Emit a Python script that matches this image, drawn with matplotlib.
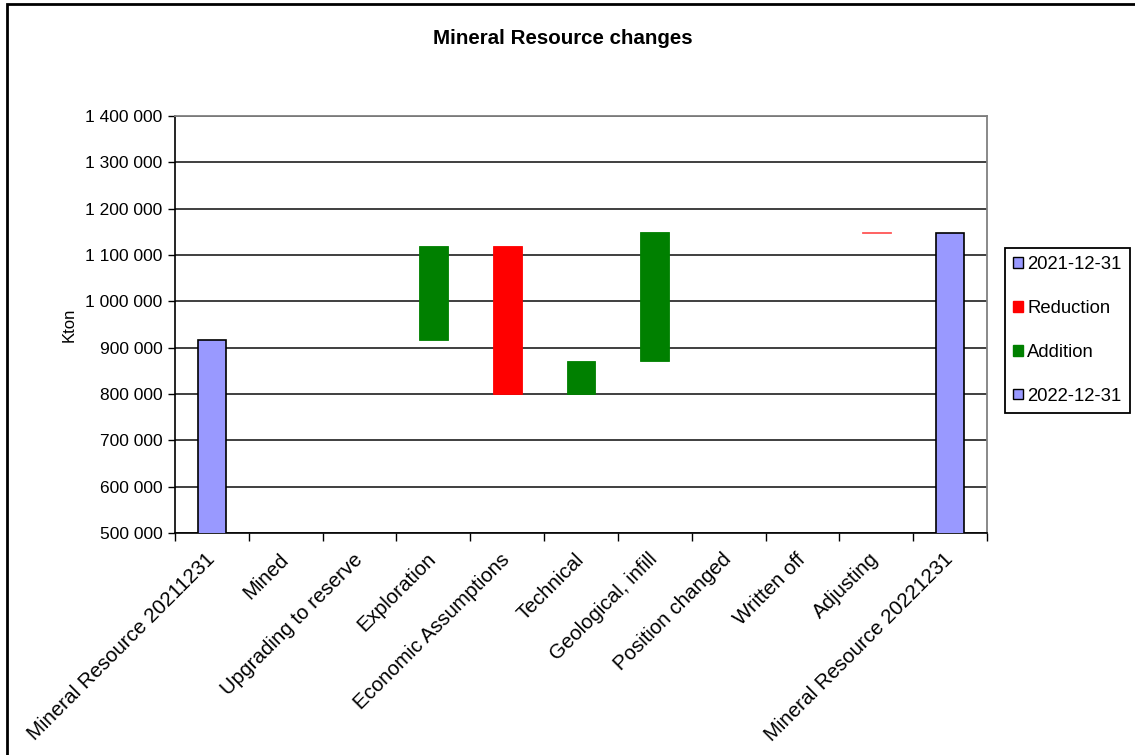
import matplotlib.pyplot as plt
import matplotlib.transforms as mtransforms
import numpy as np
from matplotlib.patches import Patch, Rectangle
from matplotlib.ticker import FuncFormatter

plt.rcParams['font.family'] = ['Liberation Sans', 'DejaVu Sans']

categories = ['Mineral Resource 20211231', 'Mined', 'Upgrading to reserve',
              'Exploration', 'Economic Assumptions', 'Technical',
              'Geological, infill', 'Position changed', 'Written off',
              'Adjusting', 'Mineral Resource 20221231']
start_value = 917000
changes = [0, 0, 203000, -321000, 72000, 278000, 0, 0, -2000]
end_value = 1147000
legend_labels = ['2021-12-31', 'Reduction', 'Addition', '2022-12-31']

blue = '#9999ff'
red = '#ff0000'
green = '#008000'

fig = plt.figure(figsize=(11.35, 7.55), dpi=100)
ax = fig.add_axes([175 / 1135, 1 - 533 / 755, 812 / 1135, 417 / 755])

x = np.arange(len(categories))
w = 0.39

# start / end totals
ax.bar(x[0], start_value, width=w, color=blue, edgecolor='black', linewidth=1.2, zorder=3)
ax.bar(x[-1], end_value, width=w, color=blue, edgecolor='black', linewidth=1.2, zorder=3)

# floating steps
level = start_value
for i, d in enumerate(changes):
    new = level + d
    if d != 0:
        lo, hi = min(level, new), max(level, new)
        col = green if d > 0 else red
        ec = '#ff6060' if d < 0 and abs(d) < 5000 else col
        ax.bar(x[i + 1], hi - lo, bottom=lo, width=w, color=col,
               edgecolor=ec, linewidth=0.6, zorder=3)
    level = new

ax.set_xlim(-0.5, len(categories) - 0.5)
ax.set_ylim(500000, 1400000)
ax.set_yticks(np.arange(500000, 1400001, 100000))
ax.yaxis.set_major_formatter(FuncFormatter(lambda v, p: f'{int(v):,}'.replace(',', ' ')))
ax.grid(axis='y', color='#303030', linewidth=1.3, zorder=1)

ax.set_xticks(np.arange(-0.5, len(categories), 1.0))
ax.set_xticklabels([])
ax.set_xticks(x, minor=True)
ax.set_xticklabels(categories, minor=True, rotation=45, ha='right', va='top',
                   rotation_mode='anchor', fontsize=14.8)
ax.tick_params(axis='x', which='minor', length=0, pad=12)
ax.tick_params(axis='x', which='major', length=6, width=1, direction='out')
ax.tick_params(axis='y', length=5, width=1, labelsize=12.5, pad=4)

shift = mtransforms.ScaledTranslation(-7 / 100, 0, fig.dpi_scale_trans)
for lab in ax.get_xticklabels(minor=True):
    lab.set_transform(lab.get_transform() + shift)

for s in ['top', 'right']:
    ax.spines[s].set_color('#808080')
    ax.spines[s].set_linewidth(1.3)
for s in ['left', 'bottom']:
    ax.spines[s].set_color('black')
    ax.spines[s].set_linewidth(1.2)

ax.set_ylabel('Kton', fontsize=12)
ax.yaxis.set_label_coords(-0.121, 0.5)

fig.text(563 / 1135, 1 - 38 / 755, 'Mineral Resource changes', ha='center', va='center',
         fontsize=14.8, fontweight='bold')

handles = [Patch(facecolor=blue, edgecolor='black', linewidth=1),
           Patch(facecolor=red, edgecolor=red),
           Patch(facecolor=green, edgecolor=green),
           Patch(facecolor=blue, edgecolor='black', linewidth=1)]
leg = fig.legend(handles, legend_labels, loc='upper left',
                 bbox_to_anchor=(1005 / 1135, 1 - 248 / 755), fontsize=13.3,
                 handlelength=0.5, handleheight=0.5, handletextpad=0.25,
                 labelspacing=1.45, borderpad=0.45, fancybox=False, framealpha=1,
                 borderaxespad=0)
leg.get_frame().set_edgecolor('black')
leg.get_frame().set_linewidth(1.3)

fig.patches.append(Rectangle((7 / 1135, -0.05), 1.1, 1 - 4 / 755 + 0.05,
                             transform=fig.transFigure, fill=False,
                             edgecolor='black', linewidth=2))

plt.savefig('out.png', dpi=100)
